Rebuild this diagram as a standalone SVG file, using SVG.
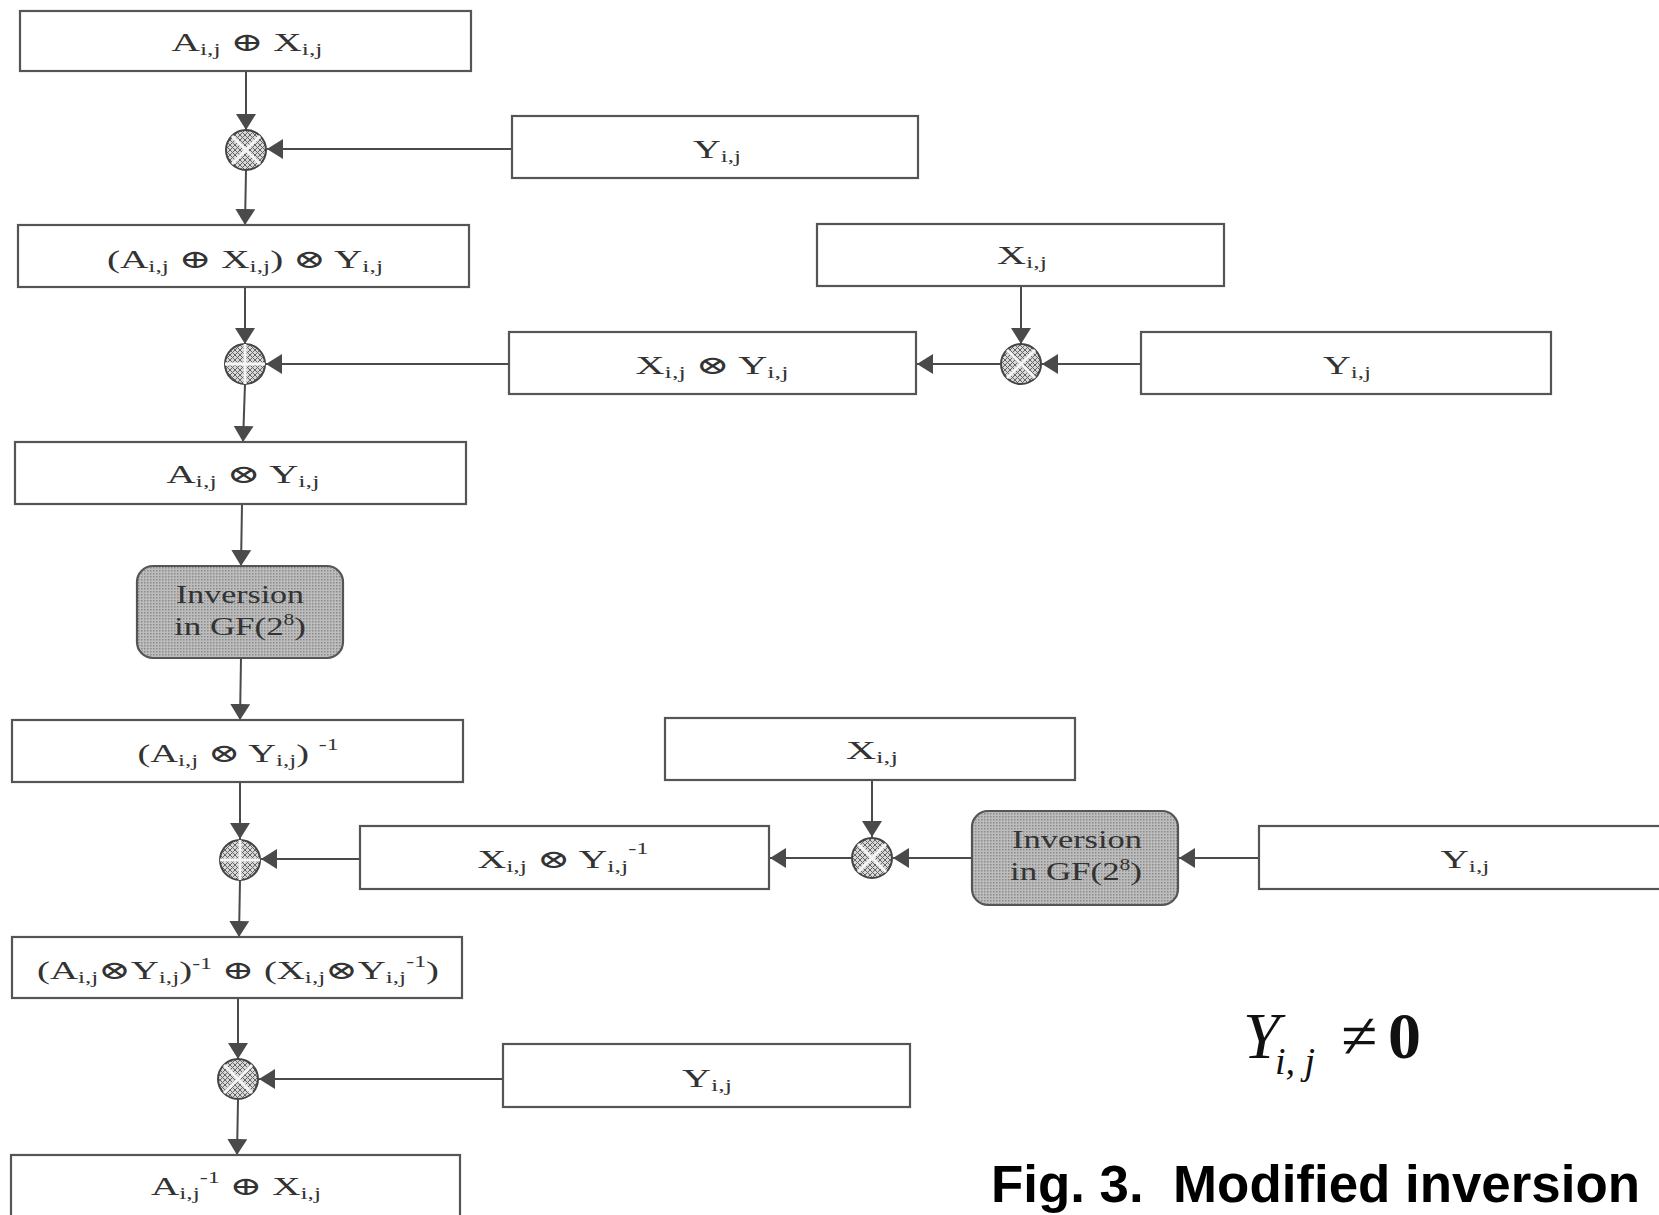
<svg xmlns="http://www.w3.org/2000/svg" width="1659" height="1215" viewBox="0 0 1659 1215">
<defs>
<style>
.box{fill:#fff;stroke:#555;stroke-width:2.2}
.inv{fill:url(#dots);stroke:#555;stroke-width:2.2}
.lbl{font-family:"Liberation Serif","DejaVu Serif",serif;font-size:26px;fill:#333;text-anchor:middle}
.s{font-size:17px}
.p{font-size:16px}
.conn line{stroke:#4a4a4a;stroke-width:2;marker-end:url(#ah)}
.op circle{fill:url(#hatch);stroke:#444;stroke-width:2}
.op line{stroke:#f4f4f4;stroke-width:3}
</style>
<pattern id="hatch" width="5" height="5" patternUnits="userSpaceOnUse">
<rect width="5" height="5" fill="#d8d8d8"/>
<path d="M0,0 L5,5 M5,0 L0,5" stroke="#666" stroke-width="1"/>
</pattern>
<pattern id="dots" width="3" height="3" patternUnits="userSpaceOnUse">
<rect width="3" height="3" fill="#bdbdbd"/>
<rect width="1.5" height="1.5" fill="#8a8a8a"/>
</pattern>
<marker id="ah" viewBox="0 0 16 20" refX="16" refY="10" markerWidth="16" markerHeight="20" markerUnits="userSpaceOnUse" orient="auto">
<path d="M0,0 L16,10 L0,20 z" fill="#4a4a4a"/>
</marker>
</defs>
<rect width="1659" height="1215" fill="#fff"/>

<g id="connectors" class="conn">
<line x1="246" y1="71" x2="246" y2="130"/>
<line x1="512" y1="149" x2="267" y2="149"/>
<line x1="246" y1="170" x2="245" y2="225"/>
<line x1="245" y1="287" x2="245" y2="344"/>
<line x1="509" y1="364" x2="266" y2="364"/>
<line x1="1021" y1="286" x2="1021" y2="344"/>
<line x1="1141" y1="364" x2="1042" y2="364"/>
<line x1="1000" y1="364" x2="917" y2="364"/>
<line x1="245" y1="384" x2="243" y2="442"/>
<line x1="242" y1="504" x2="241" y2="566"/>
<line x1="241" y1="658" x2="240" y2="720"/>
<line x1="240" y1="782" x2="240" y2="839"/>
<line x1="360" y1="859" x2="261" y2="859"/>
<line x1="872" y1="780" x2="872" y2="837"/>
<line x1="972" y1="858" x2="893" y2="858"/>
<line x1="1259" y1="858" x2="1179" y2="858"/>
<line x1="851" y1="858" x2="770" y2="858"/>
<line x1="240" y1="880" x2="239" y2="937"/>
<line x1="238" y1="998" x2="238" y2="1059"/>
<line x1="503" y1="1079" x2="259" y2="1079"/>
<line x1="238" y1="1100" x2="237" y2="1155"/>
</g>

<g id="n1"><rect class="box" x="20" y="11" width="451" height="60"/>
<text class="lbl" x="247" y="51" textLength="151" lengthAdjust="spacingAndGlyphs">A<tspan class="s" dy="4">i,j</tspan><tspan dy="-4"> ⊕ X</tspan><tspan class="s" dy="4">i,j</tspan></text></g>

<g id="op1" class="op"><circle cx="246" cy="150" r="20"/><line x1="232" y1="136" x2="260" y2="164"/><line x1="260" y1="136" x2="232" y2="164"/></g>

<g id="n2"><rect class="box" x="512" y="116" width="406" height="62"/>
<text class="lbl" x="717" y="158" textLength="48" lengthAdjust="spacingAndGlyphs">Y<tspan class="s" dy="4">i,j</tspan></text></g>

<g id="n3"><rect class="box" x="18" y="225" width="451" height="62"/>
<text class="lbl" x="245" y="268" textLength="276" lengthAdjust="spacingAndGlyphs">(A<tspan class="s" dy="4">i,j</tspan><tspan dy="-4"> ⊕ X</tspan><tspan class="s" dy="4">i,j</tspan><tspan dy="-4">) ⊗ Y</tspan><tspan class="s" dy="4">i,j</tspan></text></g>

<g id="n4"><rect class="box" x="817" y="224" width="407" height="62"/>
<text class="lbl" x="1022" y="264" textLength="50" lengthAdjust="spacingAndGlyphs">X<tspan class="s" dy="4">i,j</tspan></text></g>

<g id="op2" class="op"><circle cx="245" cy="364" r="20"/><line x1="225" y1="364" x2="265" y2="364"/><line x1="245" y1="344" x2="245" y2="384"/></g>

<g id="n5"><rect class="box" x="509" y="332" width="407" height="62"/>
<text class="lbl" x="712" y="374" textLength="153" lengthAdjust="spacingAndGlyphs">X<tspan class="s" dy="4">i,j</tspan><tspan dy="-4"> ⊗ Y</tspan><tspan class="s" dy="4">i,j</tspan></text></g>

<g id="op3" class="op"><circle cx="1021" cy="364" r="20"/><line x1="1007" y1="350" x2="1035" y2="378"/><line x1="1035" y1="350" x2="1007" y2="378"/></g>

<g id="n6"><rect class="box" x="1141" y="332" width="410" height="62"/>
<text class="lbl" x="1347" y="374" textLength="48" lengthAdjust="spacingAndGlyphs">Y<tspan class="s" dy="4">i,j</tspan></text></g>

<g id="n7"><rect class="box" x="15" y="442" width="451" height="62"/>
<text class="lbl" x="243" y="483" textLength="153" lengthAdjust="spacingAndGlyphs">A<tspan class="s" dy="4">i,j</tspan><tspan dy="-4"> ⊗ Y</tspan><tspan class="s" dy="4">i,j</tspan></text></g>

<g id="n8"><rect class="inv" x="137" y="566" width="206" height="92" rx="16"/>
<text class="lbl" x="240" y="603" textLength="128" lengthAdjust="spacingAndGlyphs">Inversion</text>
<text class="lbl" x="240" y="635" textLength="132" lengthAdjust="spacingAndGlyphs">in GF(2<tspan class="p" dy="-10">8</tspan><tspan dy="10">)</tspan></text></g>

<g id="n9"><rect class="box" x="12" y="720" width="451" height="62"/>
<text class="lbl" x="238" y="762" textLength="201" lengthAdjust="spacingAndGlyphs">(A<tspan class="s" dy="4">i,j</tspan><tspan dy="-4"> ⊗ Y</tspan><tspan class="s" dy="4">i,j</tspan><tspan dy="-4">) </tspan><tspan class="p" dy="-12">-1</tspan></text></g>

<g id="n10"><rect class="box" x="665" y="718" width="410" height="62"/>
<text class="lbl" x="872" y="759" textLength="52" lengthAdjust="spacingAndGlyphs">X<tspan class="s" dy="4">i,j</tspan></text></g>

<g id="op4" class="op"><circle cx="240" cy="860" r="20"/><line x1="220" y1="860" x2="260" y2="860"/><line x1="240" y1="840" x2="240" y2="880"/></g>

<g id="n11"><rect class="box" x="360" y="826" width="409" height="63"/>
<text class="lbl" x="563" y="868" textLength="171" lengthAdjust="spacingAndGlyphs">X<tspan class="s" dy="4">i,j</tspan><tspan dy="-4"> ⊗ Y</tspan><tspan class="s" dy="4">i,j</tspan><tspan class="p" dy="-18">-1</tspan></text></g>

<g id="op5" class="op"><circle cx="872" cy="858" r="20"/><line x1="858" y1="844" x2="886" y2="872"/><line x1="886" y1="844" x2="858" y2="872"/></g>

<g id="n12"><rect class="inv" x="972" y="811" width="206" height="94" rx="16"/>
<text class="lbl" x="1077" y="848" textLength="130" lengthAdjust="spacingAndGlyphs">Inversion</text>
<text class="lbl" x="1076" y="880" textLength="132" lengthAdjust="spacingAndGlyphs">in GF(2<tspan class="p" dy="-10">8</tspan><tspan dy="10">)</tspan></text></g>

<g id="n13"><rect class="box" x="1259" y="826" width="410" height="63"/>
<text class="lbl" x="1465" y="868" textLength="49" lengthAdjust="spacingAndGlyphs">Y<tspan class="s" dy="4">i,j</tspan></text></g>

<g id="n14"><rect class="box" x="12" y="937" width="450" height="61"/>
<text class="lbl" x="238" y="979" textLength="402" lengthAdjust="spacingAndGlyphs">(A<tspan class="s" dy="4">i,j</tspan><tspan dy="-4">⊗Y</tspan><tspan class="s" dy="4">i,j</tspan><tspan dy="-4">)</tspan><tspan class="p" dy="-10">-1</tspan><tspan dy="10"> ⊕ (X</tspan><tspan class="s" dy="4">i,j</tspan><tspan dy="-4">⊗Y</tspan><tspan class="s" dy="4">i,j</tspan><tspan class="p" dy="-16">-1</tspan><tspan dy="12">)</tspan></text></g>

<g id="op6" class="op"><circle cx="238" cy="1079" r="20"/><line x1="224" y1="1065" x2="252" y2="1093"/><line x1="252" y1="1065" x2="224" y2="1093"/></g>

<g id="n15"><rect class="box" x="503" y="1044" width="407" height="63"/>
<text class="lbl" x="707" y="1087" textLength="50" lengthAdjust="spacingAndGlyphs">Y<tspan class="s" dy="4">i,j</tspan></text></g>

<g id="n16"><rect class="box" x="11" y="1155" width="449" height="70"/>
<text class="lbl" x="236" y="1195" textLength="170" lengthAdjust="spacingAndGlyphs">A<tspan class="s" dy="4">i,j</tspan><tspan class="p" dy="-16">-1</tspan><tspan dy="12"> ⊕ X</tspan><tspan class="s" dy="4">i,j</tspan></text></g>

<text x="1243" y="1058" font-family="Liberation Serif, serif" font-size="66" fill="#111"><tspan font-style="italic">Y</tspan><tspan x="1275" y="1074" font-style="italic" font-size="38">i, j</tspan><tspan x="1341" y="1058">≠</tspan><tspan x="1388" y="1058" font-weight="bold">0</tspan></text>

<text x="991" y="1202" font-family="Liberation Sans, Arial, sans-serif" font-weight="bold" font-size="51" fill="#000" textLength="649" lengthAdjust="spacingAndGlyphs">Fig. 3.&#160; Modified inversion</text>
</svg>
